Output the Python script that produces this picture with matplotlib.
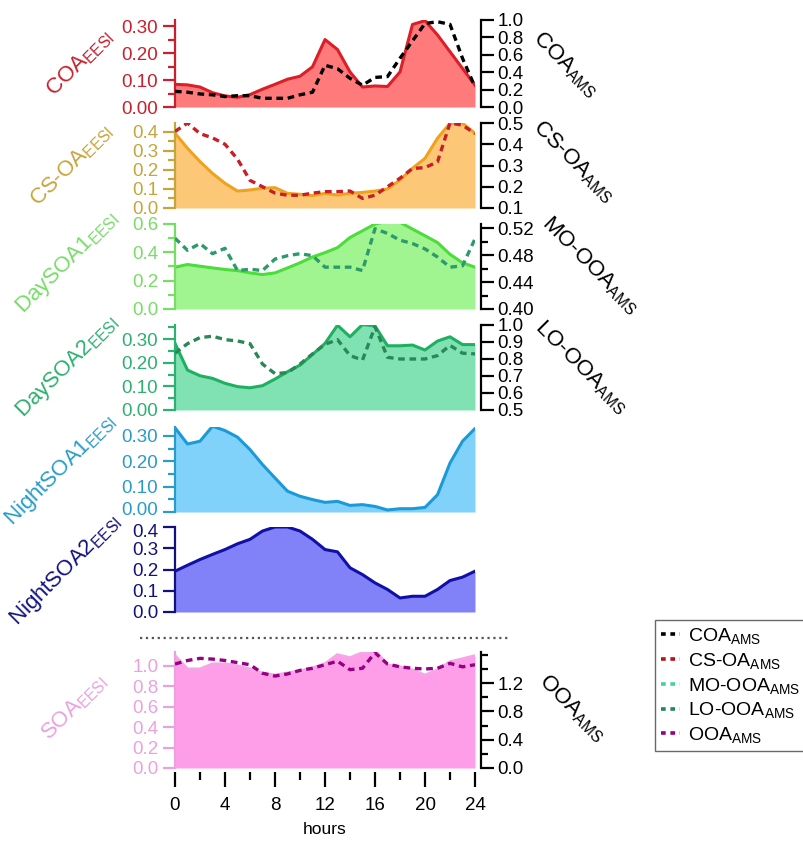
import matplotlib
matplotlib.use("Agg")
import matplotlib.pyplot as plt
from matplotlib.lines import Line2D
from matplotlib.ticker import FixedLocator, FormatStrFormatter
import matplotlib.transforms as mtransforms
import numpy as np

plt.rcParams['font.family'] = ['Liberation Sans', 'DejaVu Sans']
plt.rcParams['mathtext.default'] = 'regular'

hours = list(range(25))

coa_eesi = [0.084, 0.082, 0.074, 0.053, 0.041, 0.036, 0.046, 0.066, 0.084, 0.103, 0.114, 0.149, 0.250,
            0.213, 0.130, 0.074, 0.078, 0.076, 0.130, 0.306, 0.320, 0.267, 0.205, 0.143, 0.081]
coa_ams = [0.18, 0.17, 0.15, 0.14, 0.12, 0.13, 0.13, 0.10, 0.10, 0.10, 0.14, 0.17, 0.48,
           0.44, 0.33, 0.25, 0.34, 0.35, 0.56, 0.76, 0.96, 0.98, 0.95, 0.56, 0.23]

csoa_eesi = [0.393, 0.314, 0.244, 0.182, 0.130, 0.089, 0.095, 0.104, 0.107, 0.077, 0.072, 0.065, 0.077,
             0.068, 0.077, 0.082, 0.089, 0.100, 0.147, 0.209, 0.261, 0.367, 0.446, 0.446, 0.393]
csoa_ams = [0.46, 0.50, 0.45, 0.43, 0.40, 0.33, 0.23, 0.20, 0.17, 0.16, 0.16, 0.17, 0.177,
            0.177, 0.18, 0.145, 0.16, 0.20, 0.24, 0.286, 0.29, 0.317, 0.50, 0.49, 0.45]

daysoa1_eesi = [0.295, 0.314, 0.302, 0.290, 0.279, 0.271, 0.255, 0.243, 0.255, 0.290, 0.326, 0.367, 0.398,
                0.433, 0.505, 0.552, 0.600, 0.619, 0.612, 0.564, 0.517, 0.469, 0.386, 0.326, 0.295]
moooa_ams = [0.505, 0.487, 0.497, 0.482, 0.490, 0.457, 0.459, 0.457, 0.474, 0.479, 0.482, 0.479, 0.462,
             0.462, 0.462, 0.457, 0.519, 0.512, 0.502, 0.497, 0.489, 0.477, 0.462, 0.464, 0.504]

daysoa2_eesi = [0.282, 0.169, 0.145, 0.134, 0.113, 0.099, 0.094, 0.103, 0.131, 0.162, 0.190, 0.235, 0.282,
                0.359, 0.310, 0.362, 0.356, 0.272, 0.272, 0.275, 0.254, 0.292, 0.310, 0.277, 0.277]
loooa_ams = [0.834, 0.89, 0.926, 0.934, 0.914, 0.906, 0.89, 0.77, 0.714, 0.72, 0.77, 0.83, 0.886,
             0.914, 0.82, 0.794, 0.99, 0.81, 0.80, 0.80, 0.80, 0.82, 0.88, 0.834, 0.83]

nightsoa1_eesi = [0.332, 0.268, 0.279, 0.338, 0.321, 0.295, 0.246, 0.187, 0.134, 0.082, 0.062, 0.049, 0.038,
                  0.042, 0.026, 0.029, 0.022, 0.008, 0.013, 0.013, 0.018, 0.068, 0.193, 0.279, 0.329]

nightsoa2_eesi = [0.192, 0.220, 0.247, 0.271, 0.294, 0.321, 0.342, 0.381, 0.400, 0.400, 0.381, 0.342, 0.294,
                  0.283, 0.208, 0.176, 0.137, 0.106, 0.066, 0.074, 0.074, 0.106, 0.148, 0.164, 0.192]

soa_eesi = [1.10, 0.97, 0.97, 1.02, 1.02, 1.00, 0.97, 0.93, 0.91, 0.93, 0.95, 0.98, 1.02,
            1.11, 1.08, 1.13, 1.15, 1.01, 0.99, 0.96, 0.91, 0.96, 1.04, 1.07, 1.10]
ooa_ams = [1.47, 1.52, 1.55, 1.54, 1.52, 1.49, 1.46, 1.34, 1.30, 1.33, 1.38, 1.41, 1.46,
           1.51, 1.39, 1.41, 1.63, 1.47, 1.43, 1.41, 1.40, 1.41, 1.48, 1.43, 1.46]

left_labels = ['COA$_{EESI}$', 'CS-OA$_{EESI}$', 'DaySOA1$_{EESI}$', 'DaySOA2$_{EESI}$',
               'NightSOA1$_{EESI}$', 'NightSOA2$_{EESI}$', 'SOA$_{EESI}$']
right_labels = ['COA$_{AMS}$', 'CS-OA$_{AMS}$', 'MO-OOA$_{AMS}$', 'LO-OOA$_{AMS}$', None, None, 'OOA$_{AMS}$']
legend_labels = ['COA$_{AMS}$', 'CS-OA$_{AMS}$', 'MO-OOA$_{AMS}$', 'LO-OOA$_{AMS}$', 'OOA$_{AMS}$']
hour_ticks = [0, 4, 8, 12, 16, 20, 24]

W, H = 804, 844
fig = plt.figure(figsize=(W / 100, H / 100), dpi=100)

panels = [
    dict(eesi=coa_eesi, ams=coa_ams, top=20, bot=107, ylim=(0, 0.3225), yt=[0, 0.1, 0.2, 0.3], ymin=0.05, yfmt='%.2f',
         line='#dc1e28', fill='#ff7a7a', tc='#c8202c', acol='#000000',
         rlim=(0, 1.0), rt=[0, 0.2, 0.4, 0.6, 0.8, 1.0], rmin=None, rfmt='%.1f',
         llab=(80, 63), rlab=(566, 65)),
    dict(eesi=csoa_eesi, ams=csoa_ams, top=123, bot=208, ylim=(0, 0.447), yt=[0, 0.1, 0.2, 0.3, 0.4], ymin=0.05, yfmt='%.1f',
         line='#f0a21e', fill='#fcc878', tc='#c8a43c', acol='#c81e28',
         rlim=(0.1, 0.5), rt=[0.1, 0.2, 0.3, 0.4, 0.5], rmin=None, rfmt='%.1f',
         llab=(72, 165), rlab=(573, 161)),
    dict(eesi=daysoa1_eesi, ams=moooa_ams, top=224, bot=309, ylim=(0, 0.6), yt=[0, 0.2, 0.4, 0.6], ymin=0.1, yfmt='%.1f',
         line='#4cdc3c', fill='#a0f590', tc='#78dc68', acol='#2e9a6c',
         rlim=(0.40, 0.526), rt=[0.40, 0.44, 0.48, 0.52], rmin=0.02, rfmt='%.2f',
         llab=(67, 263), rlab=(590, 265)),
    dict(eesi=daysoa2_eesi, ams=loooa_ams, top=325, bot=410, ylim=(0, 0.36), yt=[0, 0.1, 0.2, 0.3], ymin=0.05, yfmt='%.2f',
         line='#1eb060', fill='#80e2b2', tc='#2eb070', acol='#2a8858',
         rlim=(0.5, 1.0), rt=[0.5, 0.6, 0.7, 0.8, 0.9, 1.0], rmin=None, rfmt='%.1f',
         llab=(67, 367), rlab=(581, 367)),
    dict(eesi=nightsoa1_eesi, ams=None, top=427, bot=512, ylim=(0, 0.335), yt=[0, 0.1, 0.2, 0.3], ymin=0.05, yfmt='%.2f',
         line='#1c9ad8', fill='#80d2fa', tc='#2a9cc8', acol=None,
         llab=(60, 470), rlab=None),
    dict(eesi=nightsoa2_eesi, ams=None, top=527, bot=612, ylim=(0, 0.4), yt=[0, 0.1, 0.2, 0.3, 0.4], ymin=None, yfmt='%.1f',
         line='#1010a8', fill='#8282f8', tc='#12127e', acol=None,
         llab=(65, 570), rlab=None),
    dict(eesi=soa_eesi, ams=ooa_ams, top=652, bot=768, ylim=(0, 1.137), yt=[0, 0.2, 0.4, 0.6, 0.8, 1.0], ymin=None, yfmt='%.1f',
         line='#f4a6e6', fill='#ff9ee8', tc='#eaa2de', acol='#960082',
         rlim=(0, 1.64), rt=[0, 0.4, 0.8, 1.2], rmin=0.2, rfmt='%.1f',
         llab=(74, 708), rlab=(572, 708)),
]

FS = 13.5
LFS = 16
axes_list = []
for i, p in enumerate(panels):
    ax = fig.add_axes([175 / W, 1 - p['bot'] / H, 300 / W, (p['bot'] - p['top']) / H])
    axes_list.append(ax)
    ax.fill_between(hours, 0, p['eesi'], color=p['fill'], lw=0)
    ax.plot(hours, p['eesi'], color=p['line'], lw=2.2, solid_joinstyle='round')
    ax.set_xlim(0, 24)
    ax.set_ylim(*p['ylim'])
    ax.yaxis.set_major_locator(FixedLocator(p['yt']))
    ax.yaxis.set_major_formatter(FormatStrFormatter(p['yfmt']))
    if p['ymin']:
        ax.yaxis.set_minor_locator(FixedLocator(np.arange(0, p['ylim'][1] + 1e-9, p['ymin'])))
    for s in ['top', 'right', 'bottom']:
        ax.spines[s].set_visible(False)
    ax.spines['left'].set_color(p['tc'])
    ax.spines['left'].set_linewidth(1.6)
    ax.tick_params(axis='y', which='major', direction='out', length=9, width=1.6,
                   colors=p['tc'], labelsize=FS, pad=3)
    ax.tick_params(axis='y', which='minor', direction='out', length=5, width=1.6, colors=p['tc'])
    fig.text(p['llab'][0] / W, 1 - p['llab'][1] / H, left_labels[i], color=p['tc'], fontsize=LFS,
             rotation=45, rotation_mode='anchor', ha='center', va='center')

    if i == 6:
        ax.set_xticks(hour_ticks)
        ax.set_xticks(list(range(2, 25, 4)), minor=True)
        ax.spines['bottom'].set_position(('outward', 3))
        ax.tick_params(axis='x', which='major', direction='out', length=11, width=1.6,
                       colors='black', labelsize=FS, pad=7)
        ax.tick_params(axis='x', which='minor', direction='out', length=6, width=1.6, colors='black')
        ax.set_xlabel('hours', fontsize=12.5, labelpad=6)
    else:
        ax.set_xticks([])

    if p['ams'] is not None:
        ax2 = ax.twinx()
        ax2.plot(hours, p['ams'], color=p['acol'], lw=2.4, ls=(0, (2.0, 1.4)))
        ax2.set_ylim(*p['rlim'])
        ax2.yaxis.set_major_locator(FixedLocator(p['rt']))
        ax2.yaxis.set_major_formatter(FormatStrFormatter(p['rfmt']))
        if p['rmin']:
            ax2.yaxis.set_minor_locator(FixedLocator(np.arange(p['rlim'][0], p['rlim'][1] + 1e-9, p['rmin'])))
        for s in ['top', 'left', 'bottom']:
            ax2.spines[s].set_visible(False)
        ax2.spines['right'].set_position(('outward', 4))
        ax2.spines['right'].set_linewidth(1.6)
        ax2.tick_params(axis='y', which='major', direction='out', length=9, width=1.6,
                        colors='black', labelsize=FS, pad=3)
        ax2.tick_params(axis='y', which='minor', direction='out', length=5, width=1.6, colors='black')
        fig.text(p['rlab'][0] / W, 1 - p['rlab'][1] / H, right_labels[i], color='black', fontsize=LFS,
                 rotation=-45, rotation_mode='anchor', ha='center', va='center')

# nudge the two touching tick labels (NightSOA1 "0.00" and NightSOA2 "0.4") apart slightly
fig.canvas.draw()
up = mtransforms.ScaledTranslation(0, 3.5 / 100, fig.dpi_scale_trans)
down = mtransforms.ScaledTranslation(0, -3.5 / 100, fig.dpi_scale_trans)
t5 = axes_list[4].yaxis.get_major_ticks()[0].label1
t5.set_transform(t5.get_transform() + up)
t6 = axes_list[5].yaxis.get_major_ticks()[-1].label1
t6.set_transform(t6.get_transform() + down)

# dotted separator
fig.add_artist(Line2D([140 / W, 510 / W], [1 - 638 / H, 1 - 638 / H], ls=':', color='#555555', lw=1.6))

# legend
leg_colors = ['#000000', '#b41414', '#3ed29e', '#23875a', '#960082']
handles = [Line2D([0], [0], color=c, lw=2.6, ls=(0, (1.3, 1.3))) for c in leg_colors]
fig.legend(handles, legend_labels, loc='upper left', bbox_to_anchor=(655 / W, 1 - 620 / H),
           frameon=True, fancybox=False, edgecolor='#444444', fontsize=14,
           handlelength=1.0, handletextpad=0.4, labelspacing=0.25, borderpad=0.3,
           borderaxespad=0)

fig.savefig('out.png', dpi=100)
